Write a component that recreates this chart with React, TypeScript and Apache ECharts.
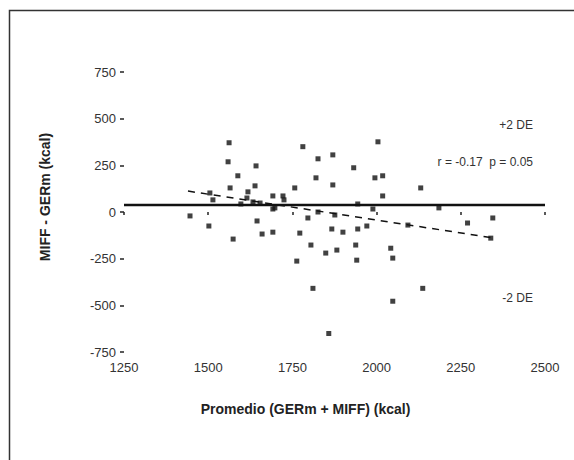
import React, { useEffect, useRef } from "react";
import * as echarts from "echarts";

const xTicks = [1250, 1500, 1750, 2000, 2250, 2500];
const yTicks = [-750, -500, -250, 0, 250, 500, 750];

const pointsX = [
  1562, 1559, 1642, 1588, 1781, 1826, 1870, 2004, 1820, 1932, 1870, 2018, 1995, 2131, 1639, 1565,
  1757, 1692, 1722, 2018, 1505, 1514, 1618, 1615, 1633, 1698, 1654, 1597, 1725, 1944, 1989, 2185,
  1826, 1446, 1502, 1574, 1645, 1660, 1692, 1692, 1772, 1796, 1805, 1763, 1811, 1849, 1882, 1867,
  1900, 1876, 1944, 1971, 1938, 1941, 2042, 2048, 2048, 2137, 1858, 2345, 2270, 2339, 2093,
];
const pointsY = [
  371, 269, 247, 194, 350, 285, 306, 376, 183, 237, 145, 194, 183, 129, 140, 129,
  129, 86, 86, 86, 102, 65, 108, 75, 54, 22, 48, 43, 65, 43, 16, 22,
  0, -21, -75, -145, -48, -118, -108, 16, -113, -32, -177, -263, -409, -220, -204, -91,
  -108, -16, -91, -75, -177, -258, -194, -247, -478, -409, -651, -32, -59, -140, -70,
];

const meanLineX = [1250, 2500];
const meanLineY = [38, 38];
const regX = [1440, 2350];
const regY = [112, -140];

const annotations = ["+2 DE", "r = -0.17  p = 0.05", "-2 DE"];

export default function App() {
  const ref = useRef<HTMLDivElement>(null);
  useEffect(() => {
    document.body.style.margin = "0";
    const chart = echarts.init(ref.current!, null, { renderer: "svg" });
    const font = "Liberation Sans";
    chart.setOption({
      animation: false,
      backgroundColor: "#fff",
      textStyle: { fontFamily: font },
      grid: { left: 124, right: 29, top: 72, bottom: 108 },
      xAxis: {
        type: "value",
        min: xTicks[0],
        max: xTicks[xTicks.length - 1],
        interval: 250,
        axisLine: { show: false },
        axisTick: { show: true, length: 3, lineStyle: { color: "#222", width: 1.5 } },
        splitLine: { show: false },
        axisLabel: { color: "#333", fontSize: 13, margin: 9, fontFamily: font, formatter: (v: number) => String(v) },
        name: "Promedio (GERm + MIFF) (kcal)",
        nameLocation: "middle",
        nameGap: 50,
        nameTextStyle: { color: "#222", fontSize: 14, fontWeight: "bold", fontFamily: font, padding: [0, 58, 0, 0] },
      },
      yAxis: {
        type: "value",
        min: yTicks[0],
        max: yTicks[yTicks.length - 1],
        interval: 250,
        axisLine: { show: false },
        axisTick: { show: true, length: 4, lineStyle: { color: "#222", width: 1.5 } },
        splitLine: { show: false },
        axisLabel: { color: "#333", fontSize: 13, margin: 8, fontFamily: font, formatter: (v: number) => String(v) },
        name: "MIFF - GERm (kcal)",
        nameLocation: "middle",
        nameGap: 72,
        nameTextStyle: { color: "#222", fontSize: 14, fontWeight: "bold", fontFamily: font, padding: [0, 0, 0, 30] },
      },
      graphic: [
        {
          type: "rect",
          shape: { x: 9.5, y: 10.5, width: 700, height: 600 },
          style: { fill: "none", stroke: "#333", lineWidth: 1.5 },
          silent: true,
        },
        { type: "text", x: 533, y: 125, style: { text: annotations[0], align: "right", verticalAlign: "middle", fontSize: 12, fill: "#333", fontFamily: font } },
        { type: "text", x: 533, y: 162, style: { text: annotations[1], align: "right", verticalAlign: "middle", fontSize: 12, fill: "#333", fontFamily: font } },
        { type: "text", x: 533, y: 298, style: { text: annotations[2], align: "right", verticalAlign: "middle", fontSize: 12, fill: "#333", fontFamily: font } },
      ],
      series: [
        {
          type: "line",
          data: meanLineX.map((x, i) => [x, meanLineY[i]]),
          symbol: "none",
          lineStyle: { color: "#111", width: 2.5 },
          z: 1,
        },
        {
          type: "line",
          data: regX.map((x, i) => [x, regY[i]]),
          symbol: "none",
          lineStyle: { color: "#111", width: 1.5, type: [7, 6] },
          z: 1,
        },
        {
          type: "scatter",
          data: pointsX.map((x, i) => [x, pointsY[i]]),
          symbol: "rect",
          symbolSize: 5,
          itemStyle: { color: "#111" },
          z: 2,
        },
      ],
    });
    return () => chart.dispose();
  }, []);
  return <div ref={ref} style={{ width: 574, height: 460 }} />;
}
